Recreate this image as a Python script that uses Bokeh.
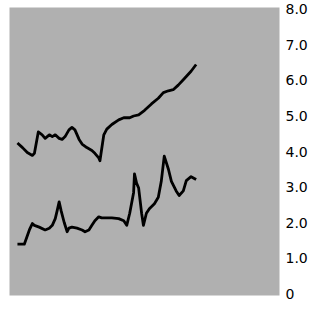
from bokeh.plotting import figure
from bokeh.models import FixedTicker
from bokeh.embed import file_html
from bokeh.resources import INLINE

# Upper series (time index in months, value)
upper_t = [0, 1.7, 3.3, 5, 5.7, 7, 8.3, 9.3, 10.7, 11.7, 12.7, 14, 15, 16, 17.3, 18.3,
           19.3, 20.7, 21.7, 23.3, 25, 26, 27.3, 27.7, 29, 30, 31.7, 34, 35.7, 37.7,
           39, 40.7, 42.7, 45, 47.3, 49, 50.7, 52.3, 54, 56, 58.3, 60]
upper_v = [4.24, 4.11, 3.97, 3.89, 3.95, 4.55, 4.47, 4.37, 4.47, 4.42, 4.47, 4.37, 4.34,
           4.42, 4.61, 4.68, 4.61, 4.34, 4.21, 4.11, 4.03, 3.95, 3.82, 3.74, 4.47, 4.63,
           4.76, 4.89, 4.95, 4.95, 5.00, 5.03, 5.16, 5.34, 5.50, 5.66, 5.71, 5.74, 5.87,
           6.05, 6.26, 6.45]

# Lower series
lower_t = [0, 2.3, 4, 5, 5.7, 7.3, 9.3, 10.7, 11.7, 12.7, 13.3, 14, 14.7, 15.7, 16.7,
           17.3, 18.3, 20, 21.7, 22.7, 24, 25, 26, 27.3, 28.3, 29.3, 31.7, 34, 35.7,
           36.7, 37.7, 39, 39.3, 40, 40.7, 41.7, 42.3, 43.3, 44.3, 46, 47.3, 48.3, 49.3,
           50.7, 51.7, 53.3, 54.3, 55.7, 56.7, 58.3, 60]
lower_v = [1.39, 1.39, 1.79, 1.97, 1.92, 1.87, 1.79, 1.84, 1.92, 2.11, 2.32, 2.58, 2.32,
           2.00, 1.74, 1.84, 1.87, 1.84, 1.79, 1.74, 1.79, 1.92, 2.05, 2.16, 2.13, 2.13,
           2.13, 2.11, 2.05, 1.92, 2.26, 2.84, 3.37, 3.11, 2.97, 2.26, 1.92, 2.26, 2.39,
           2.53, 2.71, 3.16, 3.87, 3.50, 3.16, 2.89, 2.76, 2.89, 3.18, 3.29, 3.21]

tick_values = [0, 1, 2, 3, 4, 5, 6, 7, 8]
tick_labels = ["0", "1.0", "2.0", "3.0", "4.0", "5.0", "6.0", "7.0", "8.0"]

p = figure(width=310, height=302, output_backend="svg", toolbar_location=None,
           x_range=(-2.67, 88), y_range=(-0.056, 8.056), y_axis_location="right",
           min_border_left=9, min_border_right=29, min_border_top=7, min_border_bottom=7)

p.background_fill_color = "#b0b0b0"
p.border_fill_color = "white"
p.outline_line_color = None
p.grid.visible = False
p.xaxis.visible = False

ax = p.yaxis[0]
ax.ticker = FixedTicker(ticks=tick_values)
ax.major_label_overrides = {v: l for v, l in zip(tick_values, tick_labels)}
ax.axis_line_color = None
ax.major_tick_line_color = None
ax.minor_tick_line_color = None
ax.major_tick_out = 0
ax.major_tick_in = 0
ax.major_label_standoff = 6
ax.major_label_text_font = "DejaVu Sans"
ax.major_label_text_font_size = "14px"
ax.major_label_text_color = "black"

p.line(upper_t, upper_v, line_color="black", line_width=2.8, line_join="round")
p.line(lower_t, lower_v, line_color="black", line_width=2.8, line_join="round")

open("out.html", "w").write(file_html(p, INLINE))
